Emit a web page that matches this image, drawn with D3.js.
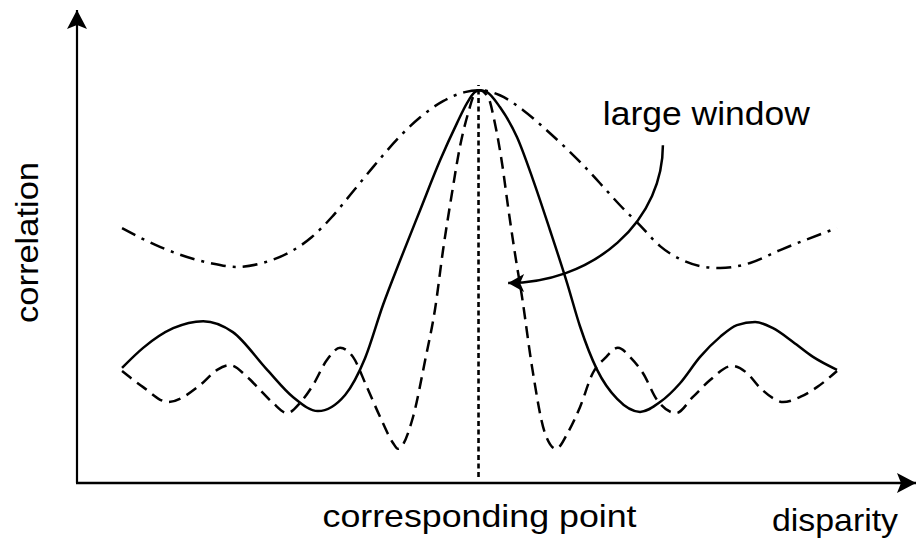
<!DOCTYPE html>
<html>
<head>
<meta charset="utf-8">
<script src="https://cdn.jsdelivr.net/npm/d3@7"></script>
<style>
  html, body { margin: 0; padding: 0; background: #fff; }
  svg text { font-family: "Liberation Sans", Arial, Helvetica, sans-serif; fill: #000; }
</style>
</head>
<body>
<div id="chart"></div>
<script>
// disparity (x) and correlation (y), peak = 100
var largeX = [-10.0, -8.94, -7.54, -6.78, -6.0, -5.30, -4.69, -4.13, -3.62, -2.98, -2.22, -1.66, -1.02, -0.41, 0,
              0.57, 1.22, 1.78, 2.48, 2.90, 3.37, 3.93, 4.49, 5.05, 5.61, 6.17, 6.73, 7.57, 8.41, 10.0];
var largeY = [64.9, 60.1, 56.0, 55.0, 56.2, 58.8, 62.6, 67.7, 73.3, 80.4, 88.3, 93.1, 97.2, 99.5, 100,
              98.7, 94.9, 90.6, 84.7, 80.9, 76.3, 70.7, 65.6, 60.3, 57.0, 55.2, 54.7, 56.0, 59.3, 64.9];

var mediumX = [-10.0, -9.41, -8.57, -7.73, -6.90, -5.94, -5.22, -4.52, -3.76, -3.20, -2.70, -2.22, -1.66, -1.10, -0.63, -0.35, -0.13, 0,
               0.21, 0.57, 1.05, 1.50, 1.97, 2.45, 2.81, 3.29, 3.85, 4.49, 5.05, 5.61, 6.17, 6.73, 7.20, 7.71, 8.21, 8.77, 9.33, 10.0];
var mediumY = [29.3, 34.4, 39.4, 41.2, 38.4, 28.8, 21.9, 18.3, 22.4, 31.8, 45.3, 56.7, 69.5, 82.2, 91.6, 96.7, 99.5, 100,
               99.5, 95.7, 88.0, 77.1, 64.4, 50.9, 39.9, 28.8, 21.4, 18.1, 20.6, 25.4, 32.1, 37.2, 40.2, 41.0, 39.4, 35.9, 32.1, 28.8];

var smallX = [-10.0, -9.41, -8.71, -7.82, -7.34, -6.98, -6.50, -6.14, -5.78, -5.38, -5.02, -4.66, -4.27, -3.90, -3.54, -3.15, -2.78, -2.42, -2.28,
              -1.86, -1.52, -1.24, -1.02, -0.77, -0.55, -0.32, -0.13, 0,
              0.24, 0.43, 0.63, 0.80, 0.99, 1.19, 1.47, 1.83, 2.14, 2.48, 2.81, 3.17, 3.51, 3.87, 4.24, 4.57, 4.97, 5.50,
              5.97, 6.45, 7.06, 7.48, 7.85, 8.21, 8.49, 8.97, 9.44, 10.0];
var smallY = [28.5, 24.4, 20.6, 24.9, 28.8, 30.0, 27.0, 23.7, 20.4, 17.8, 20.4, 24.9, 31.3, 34.4, 32.1, 24.4, 16.8, 10.2, 8.7,
              16.8, 31.3, 44.5, 59.3, 73.8, 85.5, 94.1, 99.2, 100,
              98.2, 91.6, 81.4, 70.2, 58.5, 47.3, 29.5, 12.7, 8.7, 13.0, 19.3, 28.0, 31.8, 34.4, 31.8, 28.0, 21.1, 17.8,
              21.9, 26.2, 29.8, 28.0, 24.2, 21.6, 20.6, 21.9, 24.4, 28.5];

// corresponding point marker and the "large window" callout, in data units
var peakLine = { x: 0, y0: 1.5, y1: 101.3 };
var callout = { text: "large window", tx: 3.45, ty: 91.1, x0: 5.13, y0: 86.0, x1: 0.80, y1: 50.9 };

var width = 916, height = 542;

var x = d3.scaleLinear().domain([-11.26, 12.21]).range([77, 916]);
var y = d3.scaleLinear().domain([0, 120.4]).range([483, 10]);

var svg = d3.select("#chart").append("svg")
    .attr("width", width)
    .attr("height", height);

var defs = svg.append("defs");

defs.append("marker")
    .attr("id", "axis-arrow")
    .attr("markerUnits", "userSpaceOnUse")
    .attr("viewBox", "-20 -11 21 22")
    .attr("markerWidth", 21)
    .attr("markerHeight", 22)
    .attr("refX", 0).attr("refY", 0)
    .attr("orient", "auto")
    .append("path")
    .attr("d", "M0,0L-19,-10L-15,0L-19,10Z")
    .attr("fill", "#000");

defs.append("marker")
    .attr("id", "note-arrow")
    .attr("markerUnits", "userSpaceOnUse")
    .attr("viewBox", "-18 -11 19 22")
    .attr("markerWidth", 19)
    .attr("markerHeight", 22)
    .attr("refX", 0).attr("refY", 0)
    .attr("orient", "auto")
    .append("path")
    .attr("d", "M0,0L-16,-9L-12,0L-16,9Z")
    .attr("fill", "#000");

// axes: plain lines with arrow heads, no ticks
var xd = x.domain(), yd = y.domain();
svg.append("line")
    .attr("x1", x(xd[0]) - 1).attr("x2", x(xd[1]))
    .attr("y1", y(0)).attr("y2", y(0))
    .attr("stroke", "#000").attr("stroke-width", 2.4)
    .attr("marker-end", "url(#axis-arrow)");

svg.append("line")
    .attr("x1", x(xd[0])).attr("x2", x(xd[0]))
    .attr("y1", y(0)).attr("y2", y(yd[1]))
    .attr("stroke", "#000").attr("stroke-width", 2.2)
    .attr("marker-end", "url(#axis-arrow)");

var line = d3.line()
    .curve(d3.curveMonotoneX)
    .x(function(d) { return x(d[0]); })
    .y(function(d) { return y(d[1]); });

var series = [
    { xs: largeX, ys: largeY, dash: "15,7,3,7" },
    { xs: smallX, ys: smallY, dash: "12,7" },
    { xs: mediumX, ys: mediumY, dash: null }
];

series.forEach(function(s) {
    svg.append("path")
        .datum(d3.zip(s.xs, s.ys))
        .attr("fill", "none")
        .attr("stroke", "#000")
        .attr("stroke-width", 2.5)
        .attr("stroke-dasharray", s.dash)
        .attr("d", line);
});

// dotted line at the corresponding point
svg.append("line")
    .attr("x1", x(peakLine.x) - 1).attr("x2", x(peakLine.x) - 1)
    .attr("y1", y(peakLine.y0)).attr("y2", y(peakLine.y1))
    .attr("stroke", "#000")
    .attr("stroke-width", 2.6)
    .attr("stroke-dasharray", "5,3.5");

// callout arrow, quarter ellipse ending horizontally
var cx0 = x(callout.x0), cy0 = y(callout.y0), cx1 = x(callout.x1), cy1 = y(callout.y1);
svg.append("path")
    .attr("d", "M" + cx0 + "," + cy0 + "A" + (cx0 - cx1) + "," + (cy1 - cy0) + " 0 0 1 " + cx1 + "," + cy1)
    .attr("fill", "none")
    .attr("stroke", "#000")
    .attr("stroke-width", 2.5)
    .attr("marker-end", "url(#note-arrow)");

svg.append("text")
    .attr("x", x(callout.tx))
    .attr("y", y(callout.ty))
    .attr("font-size", 34)
    .attr("textLength", 207)
    .attr("lengthAdjust", "spacingAndGlyphs")
    .text(callout.text);

// axis titles
svg.append("text")
    .attr("x", x(0))
    .attr("y", 527)
    .attr("text-anchor", "middle")
    .attr("font-size", 32)
    .attr("textLength", 314)
    .attr("lengthAdjust", "spacingAndGlyphs")
    .text("corresponding point");

svg.append("text")
    .attr("x", 898)
    .attr("y", 531)
    .attr("text-anchor", "end")
    .attr("font-size", 32)
    .attr("textLength", 126)
    .attr("lengthAdjust", "spacingAndGlyphs")
    .text("disparity");

svg.append("text")
    .attr("transform", "translate(38,242.5) rotate(-90)")
    .attr("text-anchor", "middle")
    .attr("font-size", 32)
    .attr("textLength", 161)
    .attr("lengthAdjust", "spacingAndGlyphs")
    .text("correlation");
</script>
</body>
</html>
